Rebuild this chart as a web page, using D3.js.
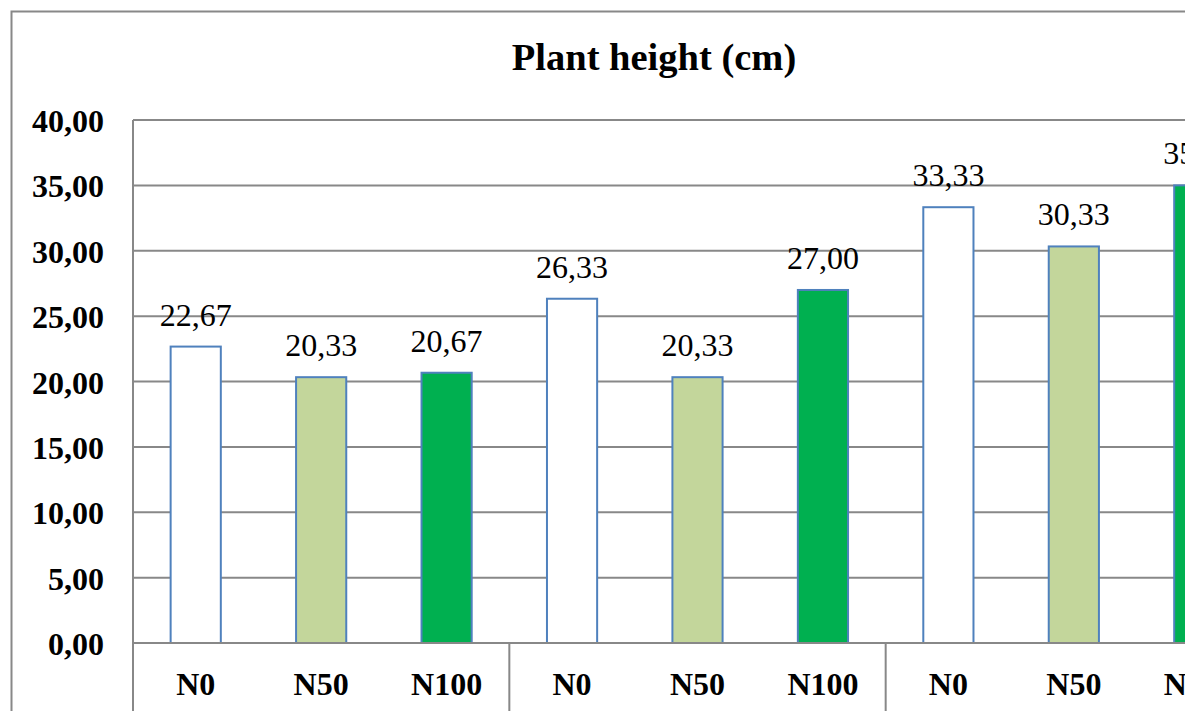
<!DOCTYPE html>
<html>
<head>
<meta charset="utf-8">
<script src="https://cdn.jsdelivr.net/npm/d3@7"></script>
<style>
  html, body { margin: 0; padding: 0; background: #fff; overflow: hidden; }
  svg { display: block; }
  text { font-family: "Liberation Serif", "Times New Roman", serif; fill: #000; }
</style>
</head>
<body>
<svg id="chart" width="1185" height="711"></svg>
<script>
const title = "Plant height (cm)";
const categories = ["N0", "N50", "N100", "N0", "N50", "N100", "N0", "N50", "N100"];
const values = [22.67, 20.33, 20.67, 26.33, 20.33, 27.00, 33.33, 30.33, 35.00];
const yTicks = [0, 5, 10, 15, 20, 25, 30, 35, 40];
const groupSize = 3;
const fills = ["#FFFFFF", "#C3D69B", "#00B050"];

const locale = d3.formatLocale({ decimal: ",", thousands: ".", grouping: [3], currency: ["", ""] });
const fmt = locale.format(".2f");

const svg = d3.select("#chart");
const plotL = 133, plotR = 1262, plotT = 120, plotB = 643;

// outer chart border
svg.append("rect")
  .attr("x", 11.5).attr("y", 11.5)
  .attr("width", 1290).attr("height", 760)
  .attr("fill", "#fff").attr("stroke", "#888888").attr("stroke-width", 2);

const x = d3.scaleBand().domain(d3.range(categories.length)).range([plotL, plotR]).padding(0);
const y = d3.scaleLinear().domain([0, 40]).range([plotB, plotT]);

// gridlines
svg.append("g").selectAll("line").data(yTicks).join("line")
  .attr("x1", plotL).attr("x2", plotR)
  .attr("y1", d => y(d)).attr("y2", d => y(d))
  .attr("stroke", "#888888").attr("stroke-width", 2);

// y axis
const yAxis = svg.append("g").attr("transform", `translate(${plotL},0)`)
  .call(d3.axisLeft(y).tickValues(yTicks).tickFormat(fmt).tickSize(0).tickPadding(29));
yAxis.select(".domain").remove();
yAxis.append("line").attr("x1", 0).attr("x2", 0).attr("y1", plotT).attr("y2", 711)
  .attr("stroke", "#888888").attr("stroke-width", 2);
yAxis.selectAll("text")
  .attr("font-size", 32).attr("font-weight", "bold")
  .attr("font-family", "Liberation Serif, Times New Roman, serif")
  .attr("dy", "0.36em").attr("fill", "#000");

// group separators
const seps = d3.range(groupSize, categories.length, groupSize);
svg.append("g").selectAll("line").data(seps).join("line")
  .attr("x1", d => x(d)).attr("x2", d => x(d))
  .attr("y1", plotB).attr("y2", 711)
  .attr("stroke", "#888888").attr("stroke-width", 2);

// bars
const bw = x.bandwidth() * 0.4;
svg.append("g").selectAll("rect").data(values).join("rect")
  .attr("x", (d, i) => x(i) + (x.bandwidth() - bw) / 2)
  .attr("y", d => y(d))
  .attr("width", bw)
  .attr("height", d => y(0) - y(d))
  .attr("fill", (d, i) => fills[i % groupSize])
  .attr("stroke", "#4F81BD").attr("stroke-width", 2);

// x axis baseline
svg.append("line").attr("x1", plotL).attr("x2", plotR)
  .attr("y1", y(0)).attr("y2", y(0))
  .attr("stroke", "#888888").attr("stroke-width", 2);

// value labels
svg.append("g").selectAll("text").data(values).join("text")
  .attr("x", (d, i) => x(i) + x.bandwidth() / 2)
  .attr("y", d => y(d) - 21)
  .attr("text-anchor", "middle")
  .attr("font-size", 32)
  .text(d => fmt(d));

// category labels
svg.append("g").selectAll("text").data(categories).join("text")
  .attr("x", (d, i) => x(i) + x.bandwidth() / 2)
  .attr("y", 695)
  .attr("text-anchor", "middle")
  .attr("font-size", 32).attr("font-weight", "bold")
  .text(d => d);

// title
svg.append("text")
  .attr("x", 654).attr("y", 70)
  .attr("text-anchor", "middle")
  .attr("font-size", 38.5).attr("font-weight", "bold")
  .text(title);
</script>
</body>
</html>
